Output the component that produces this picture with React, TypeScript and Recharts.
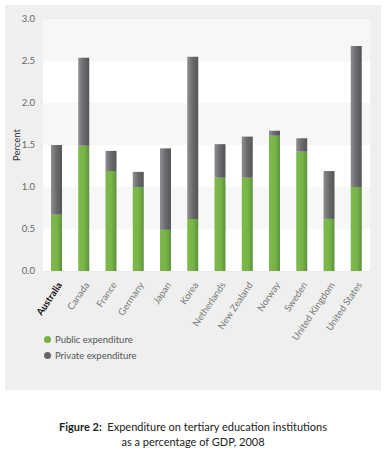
import React from "react";
import {
  BarChart,
  Bar,
  XAxis,
  YAxis,
  CartesianGrid,
  ReferenceArea,
  Label,
} from "recharts";

const countries = [
  "Australia",
  "Canada",
  "France",
  "Germany",
  "Japan",
  "Korea",
  "Netherlands",
  "New Zealand",
  "Norway",
  "Sweden",
  "United Kingdom",
  "United States",
];
const publicExp = [0.67, 1.49, 1.19, 1.0, 0.49, 0.62, 1.11, 1.11, 1.61, 1.42, 0.62, 1.0];
const totalExp = [1.5, 2.54, 1.43, 1.18, 1.46, 2.55, 1.51, 1.6, 1.67, 1.58, 1.19, 2.68];
const yTicks = [0, 0.5, 1.0, 1.5, 2.0, 2.5, 3.0];
const shadedBands = [
  [0.5, 1.0],
  [1.5, 2.0],
  [2.5, 3.0],
];
const seriesLabels = ["Public expenditure", "Private expenditure"];

const data = countries.map((c, i) => ({
  country: c,
  public: publicExp[i],
  private: +(totalExp[i] - publicExp[i]).toFixed(2),
}));

const FONT = "Lato, 'Open Sans', sans-serif";

const XTick = (props: any) => {
  const { x, y, payload } = props;
  const bold = payload.value === "Australia";
  return (
    <g transform={`translate(${x + 3},${y + 4})`}>
      <text
        transform="rotate(-56)"
        textAnchor="end"
        dominantBaseline="central"
        fontSize={9.5}
        fontFamily={FONT}
        fontWeight={bold ? 700 : 400}
        fill={bold ? "#111" : "#777"}
      >
        {payload.value}
      </text>
    </g>
  );
};

const legendColors = ["#74b044", "#666"];

export default function App() {
  return (
    <div style={{ position: "absolute", left: 0, top: 0, width: 386, height: 453, background: "#fff" }}>
      <div style={{ position: "absolute", left: 5, top: 5, width: 376, height: 385, background: "#eeefee" }}>
        <BarChart
          width={376}
          height={385}
          data={data}
          margin={{ top: 14, right: 11, bottom: 0, left: 8 }}
          barSize={11}
        >
          <defs>
            <linearGradient id="gGreen" x1="0" y1="0" x2="1" y2="0">
              <stop offset="0%" stopColor="#7dba4b" />
              <stop offset="55%" stopColor="#78b446" />
              <stop offset="100%" stopColor="#5e9140" />
            </linearGradient>
            <linearGradient id="gGray" x1="0" y1="0" x2="1" y2="0">
              <stop offset="0%" stopColor="#8f8f93" />
              <stop offset="50%" stopColor="#6a6a6d" />
              <stop offset="100%" stopColor="#555557" />
            </linearGradient>
          </defs>
          <ReferenceArea y1={0} y2={3} fill="#ffffff" fillOpacity={1} stroke="none" />
          {shadedBands.map(([a, b]) => (
            <ReferenceArea key={a} y1={a} y2={b} fill="#f7f7f7" fillOpacity={1} stroke="none" />
          ))}
          <CartesianGrid
            stroke="#e6e6e6"
            strokeWidth={1}
            verticalCoordinatesGenerator={({ offset }: any) =>
              countries.slice(1).map((_, i) => offset.left + (offset.width * (i + 1)) / countries.length)
            }
          />
          <XAxis
            dataKey="country"
            interval={0}
            tick={<XTick />}
            tickLine={false}
            axisLine={false}
            height={119}
          />
          <YAxis
            domain={[0, 3]}
            ticks={yTicks}
            tickFormatter={(v: number) => v.toFixed(1)}
            tick={{ fontSize: 9.5, fontFamily: FONT, fill: "#666" }}
            tickLine={false}
            axisLine={false}
            tickMargin={2}
            width={30}
          >
            <Label
              value="Percent"
              angle={-90}
              position="insideLeft"
              offset={4}
              style={{ fontSize: 9.5, fontFamily: FONT, fill: "#333", textAnchor: "middle" }}
            />
          </YAxis>
          <Bar dataKey="public" stackId="a" fill="url(#gGreen)" isAnimationActive={false} />
          <Bar dataKey="private" stackId="a" fill="url(#gGray)" isAnimationActive={false} />
        </BarChart>
        <div style={{ position: "absolute", left: 39, top: 326, fontFamily: FONT, fontSize: 9.5, color: "#555" }}>
          {seriesLabels.map((label, i) => (
            <div key={label} style={{ display: "flex", alignItems: "center", height: 16 }}>
              <span
                style={{
                  display: "inline-block",
                  width: 7,
                  height: 7,
                  borderRadius: "50%",
                  background: legendColors[i],
                  marginRight: 4,
                }}
              />
              {label}
            </div>
          ))}
        </div>
      </div>
      <div
        style={{
          position: "absolute",
          left: 0,
          top: 419,
          width: 386,
          textAlign: "center",
          fontFamily: FONT,
          fontSize: 11,
          lineHeight: "15px",
          color: "#222",
        }}
      >
        <div>
          <b>Figure 2:</b>&nbsp; Expenditure on tertiary education institutions
        </div>
        <div>as a percentage of GDP, 2008</div>
      </div>
    </div>
  );
}
